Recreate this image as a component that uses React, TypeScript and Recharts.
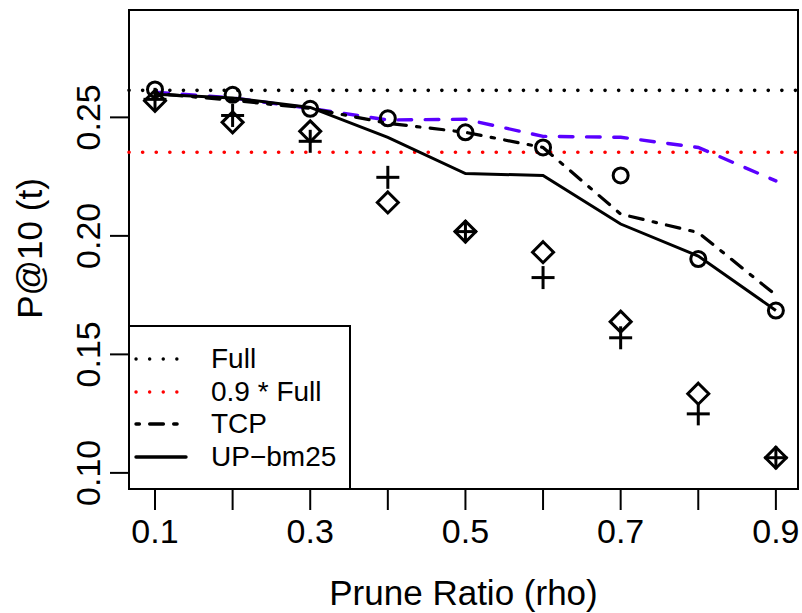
import React from 'react';
import {
  ComposedChart,
  Line,
  Scatter,
  XAxis,
  YAxis,
  ReferenceLine,
  ReferenceArea,
  Legend,
} from 'recharts';

// prune ratios on the x axis
const rho = [0.1, 0.2, 0.3, 0.4, 0.5, 0.6, 0.7, 0.8, 0.9];

const xTicks = [0.1, 0.2, 0.3, 0.4, 0.5, 0.6, 0.7, 0.8, 0.9];
const xTickLabels = ['0.1', '', '0.3', '', '0.5', '', '0.7', '', '0.9'];
const yTicks = [0.1, 0.15, 0.2, 0.25];
const yTickLabels = ['0.10', '0.15', '0.20', '0.25'];

const fullValue = 0.2614;
const fullTenth = 0.2353;

const tcpValues = [0.2601, 0.2572, 0.2538, 0.2475, 0.2437, 0.2373, 0.2092, 0.2014, 0.175];
const upBm25Values = [0.2598, 0.2582, 0.2542, 0.2416, 0.2263, 0.2255, 0.205, 0.1915, 0.1685];
const blueValues = [0.2606, 0.2582, 0.2538, 0.2489, 0.2492, 0.242, 0.2416, 0.2373, 0.2232];
const circleValues = [0.2618, 0.2595, 0.2536, 0.2496, 0.2437, 0.2373, 0.2255, 0.1902, 0.1685];
const plusValues = [0.2576, 0.2508, 0.2399, 0.2247, 0.2018, 0.1824, 0.157, 0.1249, 0.1064];
const diamondValues = [0.257, 0.2479, 0.2441, 0.2141, 0.2018, 0.1931, 0.1638, 0.1334, 0.1064];

const legendNames = ['Full', '0.9 * Full', 'TCP', 'UP\u2212bm25'];

const FONT = '"Liberation Sans", Arial, Helvetica, sans-serif';
const X_DOMAIN: [number, number] = [0.0665, 0.9285];
const Y_DOMAIN: [number, number] = [0.0932, 0.2953];

const DOTTED = '0.1 13.5';
const DOTDASH = '3.4 10.3 13.7 10.3';
const DASHED = '13.6 13.6';

const toPoints = (ys: number[]) => rho.map((x, i) => ({ x, y: ys[i] }));

const XTick = (props: any) => {
  const { x, y, payload } = props;
  const idx = xTicks.findIndex((t) => Math.abs(t - payload.value) < 1e-9);
  const label = idx >= 0 ? xTickLabels[idx] : '';
  return (
    <text x={x} y={y + 31} textAnchor="middle" fontSize={34} fontFamily={FONT} fill="#000">
      {label}
    </text>
  );
};

const YTick = (props: any) => {
  const { x, y, payload } = props;
  const idx = yTicks.findIndex((t) => Math.abs(t - payload.value) < 1e-9);
  const label = idx >= 0 ? yTickLabels[idx] : '';
  const bx = x - 8;
  return (
    <text
      x={bx}
      y={y}
      transform={`rotate(-90, ${bx}, ${y})`}
      textAnchor="middle"
      fontSize={34}
      fontFamily={FONT}
      fill="#000"
    >
      {label}
    </text>
  );
};

const CircleShape = (props: any) => (
  <circle cx={props.cx} cy={props.cy} r={7.5} fill="none" stroke="#000" strokeWidth={3} />
);

const PlusShape = (props: any) => {
  const { cx, cy } = props;
  return (
    <g stroke="#000" strokeWidth={3}>
      <line x1={cx - 11.5} y1={cy} x2={cx + 11.5} y2={cy} />
      <line x1={cx} y1={cy - 11.5} x2={cx} y2={cy + 11.5} />
    </g>
  );
};

const DiamondShape = (props: any) => {
  const { cx, cy } = props;
  const h = 10.5;
  return (
    <polygon
      points={`${cx},${cy - h} ${cx + h},${cy} ${cx},${cy + h} ${cx - h},${cy}`}
      fill="none"
      stroke="#000"
      strokeWidth={3}
    />
  );
};

const LegendBox = () => {
  const rows = [34, 67, 99, 132];
  const samples = [
    { stroke: '#000', dash: DOTTED },
    { stroke: '#ff0000', dash: DOTTED },
    { stroke: '#000', dash: DOTDASH },
    { stroke: '#000', dash: undefined },
  ];
  return (
    <svg width={223} height={166} style={{ display: 'block' }}>
      <rect x={1} y={1} width={221} height={163} fill="#fff" stroke="#000" strokeWidth={2} />
      {legendNames.map((name, i) => (
        <g key={name}>
          <line
            x1={8}
            y1={rows[i]}
            x2={58}
            y2={rows[i]}
            stroke={samples[i].stroke}
            strokeWidth={3.4}
            strokeDasharray={samples[i].dash}
            strokeLinecap="round"
          />
          <text x={83} y={rows[i] + 9} fontSize={28} fontFamily={FONT} fill="#000">
            {name}
          </text>
        </g>
      ))}
    </svg>
  );
};

const App: React.FC = () => {
  return (
    <div style={{ position: 'absolute', left: 0, top: 0, width: 802, height: 613, background: '#fff' }}>
      <ComposedChart width={802} height={613} margin={{ top: 10, right: 4, left: 0, bottom: 0 }}>
        <XAxis
          type="number"
          dataKey="x"
          domain={X_DOMAIN}
          allowDataOverflow
          ticks={xTicks}
          interval={0}
          height={124}
          tickSize={21}
          axisLine={false}
          tickLine={{ stroke: '#000', strokeWidth: 2 }}
          tick={<XTick />}
          label={(p: any) => {
            const vb = p.viewBox;
            return (
              <text x={vb.x + vb.width / 2} y={vb.y + 116} textAnchor="middle" fontSize={35} fontFamily={FONT} fill="#000">
                Prune Ratio (rho)
              </text>
            );
          }}
        />
        <YAxis
          type="number"
          domain={Y_DOMAIN}
          allowDataOverflow
          ticks={yTicks}
          interval={0}
          width={129}
          tickSize={19}
          axisLine={false}
          tickLine={{ stroke: '#000', strokeWidth: 2 }}
          tick={<YTick />}
          label={(p: any) => {
            const vb = p.viewBox;
            const cy = vb.y + vb.height / 2 - 1;
            return (
              <text x={42} y={cy} transform={`rotate(-90, 42, ${cy})`} textAnchor="middle" fontSize={35} fontFamily={FONT} fill="#000">
                P@10 (t)
              </text>
            );
          }}
        />
        <ReferenceLine y={fullValue} stroke="#000" strokeWidth={3.6} strokeDasharray={DOTTED} strokeLinecap="round" />
        <ReferenceLine y={fullTenth} stroke="#ff0000" strokeWidth={3.6} strokeDasharray={DOTTED} strokeLinecap="round" />
        <Line
          data={toPoints(blueValues)}
          dataKey="y"
          type="linear"
          stroke="#5a00ff"
          strokeWidth={3.4}
          strokeDasharray={DASHED}
          strokeLinecap="round"
          dot={false}
          activeDot={false}
          isAnimationActive={false}
        />
        <Line
          data={toPoints(tcpValues)}
          dataKey="y"
          type="linear"
          stroke="#000"
          strokeWidth={3.2}
          strokeDasharray={DOTDASH}
          strokeLinecap="round"
          dot={false}
          activeDot={false}
          isAnimationActive={false}
        />
        <Line
          data={toPoints(upBm25Values)}
          dataKey="y"
          type="linear"
          stroke="#000"
          strokeWidth={3}
          dot={false}
          activeDot={false}
          isAnimationActive={false}
        />
        <Scatter data={toPoints(circleValues)} dataKey="y" shape={<CircleShape />} isAnimationActive={false} />
        <Scatter data={toPoints(plusValues)} dataKey="y" shape={<PlusShape />} isAnimationActive={false} />
        <Scatter data={toPoints(diamondValues)} dataKey="y" shape={<DiamondShape />} isAnimationActive={false} />
        <ReferenceArea
          x1={X_DOMAIN[0]}
          x2={X_DOMAIN[1]}
          y1={Y_DOMAIN[0]}
          y2={Y_DOMAIN[1]}
          fill="none"
          fillOpacity={0}
          stroke="#000"
          strokeWidth={2}
        />
        <Legend
          layout="vertical"
          align="center"
          verticalAlign="middle"
          wrapperStyle={{ left: 128, top: 325, width: 223, height: 166 }}
          content={() => <LegendBox />}
        />
      </ComposedChart>
    </div>
  );
};

export default App;
